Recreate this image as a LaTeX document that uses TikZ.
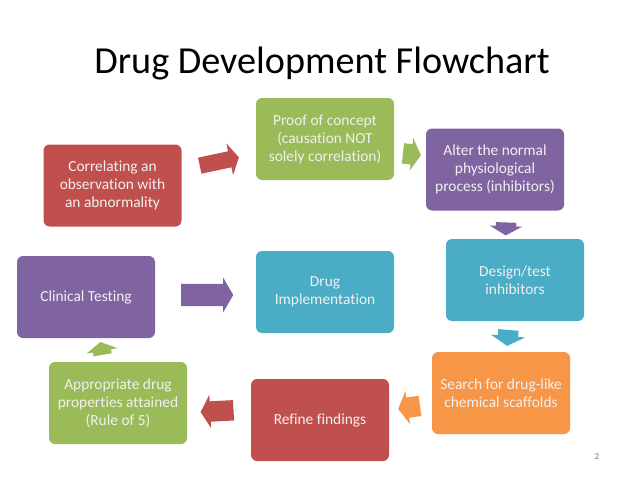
\documentclass[tikz,border=0pt]{standalone}
\usepackage{fontspec}
\setmainfont{Carlito}[Ligatures=NoCommon]
\usepackage{tikz}
\usetikzlibrary{shapes.arrows}

\definecolor{offred}{HTML}{C0504D}
\definecolor{offgreen}{HTML}{9BBB59}
\definecolor{offpurple}{HTML}{8064A2}
\definecolor{offteal}{HTML}{4BACC6}
\definecolor{offorange}{HTML}{F79646}

\begin{document}
\begin{tikzpicture}[x=1pt,y=-1pt]
    % `stage' is used for the coloured boxes.
    % `flow' is used for the fat block arrows between them
    % (#1 = length, #2 = half shaft, #3 = head extend).
    \tikzstyle{stage} = [rounded corners=6pt,minimum width=138pt,minimum height=82pt,
      align=center,text=white!94!black,inner sep=0pt,
      font=\fontsize{15.4}{18}\selectfont]
    \tikzset{flow/.style n args={3}{single arrow,minimum height=#1,inner xsep=0pt,
      inner ysep=#2,single arrow head extend=#3,single arrow tip angle=120}}
    % Background fixes the size of the page.
    \fill[white] (0,0) rectangle (638,479);
    \node[anchor=base] (title) at (322,73) {\fontsize{38.2}{46}\selectfont Drug Development Flowchart};
    %
    \node[stage,fill=offred]    (corr)   at (112.5,185.5) {Correlating an\\observation with\\an abnormality};
    \node[stage,fill=offgreen]  (proof)  at (325,139)   {Proof of concept\\(causation NOT\\solely correlation)};
    \node[stage,fill=offpurple] (alter)  at (495,169.5) {Alter the normal\\physiological\\process (inhibitors)};
    \node[stage,fill=offteal]   (design) at (515,280)   {Design/test\\inhibitors};
    \node[stage,fill=offorange] (search) at (501,393)   {Search for drug-like\\chemical scaffolds};
    \node[stage,fill=offred]    (refine) at (320,420)   {Refine findings};
    \node[stage,fill=offgreen]  (approp) at (118,403)   {Appropriate drug\\properties attained\\(Rule of 5)};
    \node[stage,fill=offpurple] (clin)   at (86,297)    {Clinical Testing};
    \node[stage,fill=offteal]   (impl)   at (325,292)   {Drug\\Implementation};
    %
    % Block arrows.
    \node[flow={40pt}{8pt}{8pt},fill=offred,rotate=12]       (corr2proof)    at (217,162) {};
    \node[flow={18pt}{10pt}{6pt},fill=offgreen,rotate=-6]    (proof2alter)   at (409,154) {};
    \node[flow={13pt}{10pt}{6pt},fill=offpurple,rotate=-92]  (alter2design)  at (506,226) {};
    \node[flow={16pt}{10pt}{7pt},fill=offteal,rotate=-95]    (design2search) at (508,335) {};
    \node[flow={22pt}{10pt}{6.5pt},fill=offorange,rotate=188] (search2refine) at (412,407) {};
    \node[flow={33pt}{10pt}{6.5pt},fill=offred,rotate=183]   (refine2approp) at (220,411) {};
    \node[flow={13pt}{9pt}{6.5pt},fill=offgreen,rotate=100]  (approp2clin)   at (102,351) {};
    \node[flow={52pt}{11pt}{6.5pt},fill=offpurple]           (clin2impl)     at (204,295) {};
    %
    \node[text=black!55,font=\fontsize{9}{10}\selectfont] (pagenum) at (597,457) {2};
\end{tikzpicture}
\end{document}
